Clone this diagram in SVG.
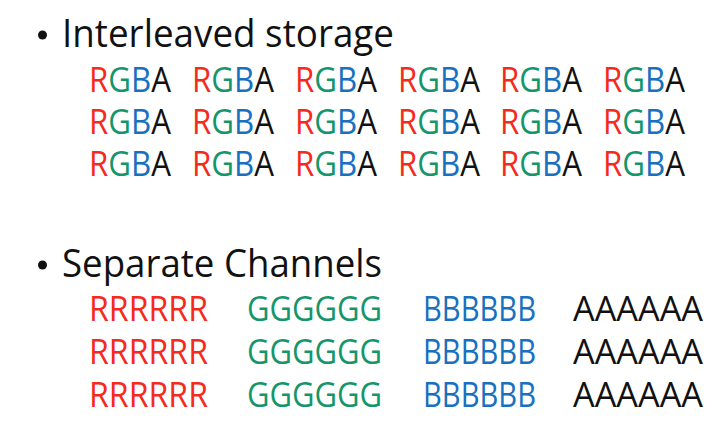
<svg xmlns="http://www.w3.org/2000/svg" width="715" height="432" viewBox="0 0 715 432">
<style>
text{font-family:"Open Sans","Noto Sans","Liberation Sans",sans-serif;}
.h{font-size:38px;fill:#111;}
.c{font-size:34px;}
.r{fill:#f5291c;}
.g{fill:#14956a;}
.b{fill:#1870c0;}
.a{fill:#111;}
</style>
<rect width="715" height="432" fill="#fff"/>
<g id="heading-interleaved">
<circle cx="42.5" cy="35" r="4.5" fill="#111"/>
<text class="h" x="62" y="47" textLength="332" lengthAdjust="spacingAndGlyphs">Interleaved storage</text>
</g>
<g id="interleaved-rows" class="c">
<g id="row1">
<text x="89" y="92" textLength="82" lengthAdjust="spacingAndGlyphs"><tspan class="r">R</tspan><tspan class="g">G</tspan><tspan class="b">B</tspan><tspan class="a">A</tspan></text>
<text x="192" y="92" textLength="82" lengthAdjust="spacingAndGlyphs"><tspan class="r">R</tspan><tspan class="g">G</tspan><tspan class="b">B</tspan><tspan class="a">A</tspan></text>
<text x="295" y="92" textLength="82" lengthAdjust="spacingAndGlyphs"><tspan class="r">R</tspan><tspan class="g">G</tspan><tspan class="b">B</tspan><tspan class="a">A</tspan></text>
<text x="398" y="92" textLength="82" lengthAdjust="spacingAndGlyphs"><tspan class="r">R</tspan><tspan class="g">G</tspan><tspan class="b">B</tspan><tspan class="a">A</tspan></text>
<text x="500" y="92" textLength="82" lengthAdjust="spacingAndGlyphs"><tspan class="r">R</tspan><tspan class="g">G</tspan><tspan class="b">B</tspan><tspan class="a">A</tspan></text>
<text x="603" y="92" textLength="82" lengthAdjust="spacingAndGlyphs"><tspan class="r">R</tspan><tspan class="g">G</tspan><tspan class="b">B</tspan><tspan class="a">A</tspan></text>
</g>
<g id="row2">
<text x="89" y="134" textLength="82" lengthAdjust="spacingAndGlyphs"><tspan class="r">R</tspan><tspan class="g">G</tspan><tspan class="b">B</tspan><tspan class="a">A</tspan></text>
<text x="192" y="134" textLength="82" lengthAdjust="spacingAndGlyphs"><tspan class="r">R</tspan><tspan class="g">G</tspan><tspan class="b">B</tspan><tspan class="a">A</tspan></text>
<text x="295" y="134" textLength="82" lengthAdjust="spacingAndGlyphs"><tspan class="r">R</tspan><tspan class="g">G</tspan><tspan class="b">B</tspan><tspan class="a">A</tspan></text>
<text x="398" y="134" textLength="82" lengthAdjust="spacingAndGlyphs"><tspan class="r">R</tspan><tspan class="g">G</tspan><tspan class="b">B</tspan><tspan class="a">A</tspan></text>
<text x="500" y="134" textLength="82" lengthAdjust="spacingAndGlyphs"><tspan class="r">R</tspan><tspan class="g">G</tspan><tspan class="b">B</tspan><tspan class="a">A</tspan></text>
<text x="603" y="134" textLength="82" lengthAdjust="spacingAndGlyphs"><tspan class="r">R</tspan><tspan class="g">G</tspan><tspan class="b">B</tspan><tspan class="a">A</tspan></text>
</g>
<g id="row3">
<text x="89" y="176" textLength="82" lengthAdjust="spacingAndGlyphs"><tspan class="r">R</tspan><tspan class="g">G</tspan><tspan class="b">B</tspan><tspan class="a">A</tspan></text>
<text x="192" y="176" textLength="82" lengthAdjust="spacingAndGlyphs"><tspan class="r">R</tspan><tspan class="g">G</tspan><tspan class="b">B</tspan><tspan class="a">A</tspan></text>
<text x="295" y="176" textLength="82" lengthAdjust="spacingAndGlyphs"><tspan class="r">R</tspan><tspan class="g">G</tspan><tspan class="b">B</tspan><tspan class="a">A</tspan></text>
<text x="398" y="176" textLength="82" lengthAdjust="spacingAndGlyphs"><tspan class="r">R</tspan><tspan class="g">G</tspan><tspan class="b">B</tspan><tspan class="a">A</tspan></text>
<text x="500" y="176" textLength="82" lengthAdjust="spacingAndGlyphs"><tspan class="r">R</tspan><tspan class="g">G</tspan><tspan class="b">B</tspan><tspan class="a">A</tspan></text>
<text x="603" y="176" textLength="82" lengthAdjust="spacingAndGlyphs"><tspan class="r">R</tspan><tspan class="g">G</tspan><tspan class="b">B</tspan><tspan class="a">A</tspan></text>
</g>
</g>
<g id="heading-separate">
<circle cx="42.5" cy="265" r="4.5" fill="#111"/>
<text class="h" x="62" y="277" textLength="320" lengthAdjust="spacingAndGlyphs">Separate Channels</text>
</g>
<g id="separate-rows" class="c">
<g id="red-channel" class="r">
<text x="89" y="321" textLength="119" lengthAdjust="spacingAndGlyphs">RRRRRR</text>
<text x="89" y="364" textLength="119" lengthAdjust="spacingAndGlyphs">RRRRRR</text>
<text x="89" y="407" textLength="119" lengthAdjust="spacingAndGlyphs">RRRRRR</text>
</g>
<g id="green-channel" class="g">
<text x="247" y="321" textLength="135" lengthAdjust="spacingAndGlyphs">GGGGGG</text>
<text x="247" y="364" textLength="135" lengthAdjust="spacingAndGlyphs">GGGGGG</text>
<text x="247" y="407" textLength="135" lengthAdjust="spacingAndGlyphs">GGGGGG</text>
</g>
<g id="blue-channel" class="b">
<text x="423" y="321" textLength="113" lengthAdjust="spacingAndGlyphs">BBBBBB</text>
<text x="423" y="364" textLength="113" lengthAdjust="spacingAndGlyphs">BBBBBB</text>
<text x="423" y="407" textLength="113" lengthAdjust="spacingAndGlyphs">BBBBBB</text>
</g>
<g id="alpha-channel" class="a">
<text x="573" y="321" textLength="130" lengthAdjust="spacingAndGlyphs">AAAAAA</text>
<text x="573" y="364" textLength="130" lengthAdjust="spacingAndGlyphs">AAAAAA</text>
<text x="573" y="407" textLength="130" lengthAdjust="spacingAndGlyphs">AAAAAA</text>
</g>
</g>
</svg>
